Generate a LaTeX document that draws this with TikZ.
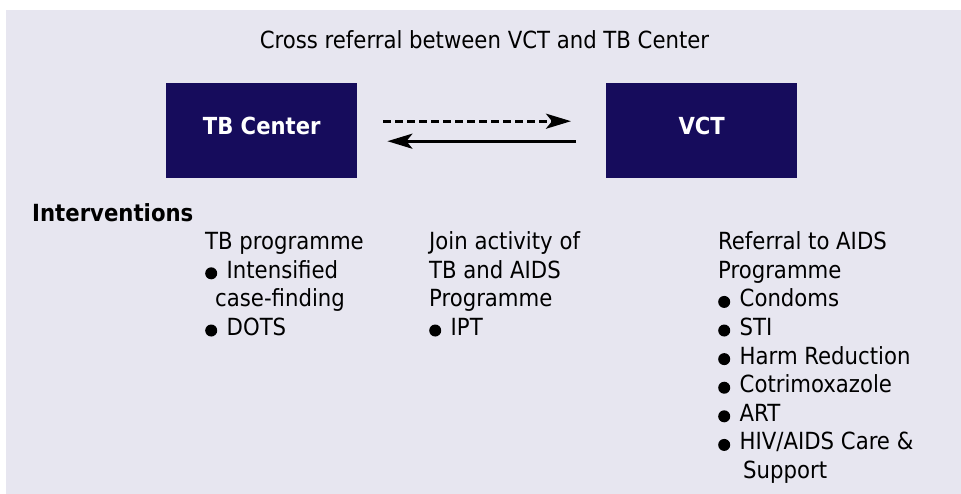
\documentclass[tikz,border=0pt]{standalone}
\usepackage{fontspec}
\setmainfont{DejaVu Sans Condensed}
\usetikzlibrary{arrows.meta}
\definecolor{bgcol}{RGB}{231,230,240}
\definecolor{boxcol}{RGB}{22,12,92}
\newcommand\mybul{\makebox[21.5pt][l]{\tikz[baseline=0pt]\fill[black] (6pt,5pt) circle (6pt);}}
\begin{document}
\begin{tikzpicture}[
  txt/.style={font={\fontsize{23.6pt}{28.6pt}\selectfont}, inner sep=0pt, text=black},
  col/.style={txt, align=left, anchor=north west},
  centerbox/.style={fill=boxcol, draw=none, minimum width=191pt, minimum height=95pt, inner sep=0pt,
    text=white, font={\fontsize{23.5pt}{28.6pt}\selectfont\bfseries}, text height=17pt, text depth=9pt},
  link/.style={line width=3pt, -{Stealth[length=25pt,width=15pt,inset=6pt]}},
  dashlink/.style={link, dash pattern=on 8pt off 4pt}
]
\useasboundingbox (0pt,0pt) rectangle (961pt,-494pt);
\fill[bgcol] (6pt,-10pt) rectangle (961pt,-494pt);

\node[txt, anchor=base] (title) at (484.5pt,-48.3pt) {Cross referral between VCT and TB Center};

\node[centerbox, anchor=north west] (tb) at (166pt,-83pt) {TB Center};
\node[centerbox, anchor=north west] (vct) at (606pt,-83pt) {VCT};

\draw[dashlink] ([xshift=26pt,yshift=9.5pt]tb.east) -- ([xshift=-35pt,yshift=9.5pt]vct.west);
\draw[link] ([xshift=-30pt,yshift=-10.5pt]vct.west) -- ([xshift=30pt,yshift=-10.5pt]tb.east);

\node[txt, anchor=base west, font={\fontsize{23.6pt}{28.6pt}\selectfont\bfseries}] (interv) at (32pt,-221.5pt) {Interventions};

\node[col] (tbprog) at (205pt,-229.5pt) {\strut TB programme\\
\mybul Intensified\\
\hspace*{10pt}case-finding\\
\mybul DOTS};

\node[col] (joint) at (429pt,-229.5pt) {\strut Join activity of\\
TB and AIDS\\
Programme\\
\mybul IPT};

\node[col] (aids) at (718pt,-229.5pt) {\strut Referral to AIDS\\
Programme\\
\mybul Condoms\\
\mybul STI\\
\mybul Harm Reduction\\
\mybul Cotrimoxazole\\
\mybul ART\\
\mybul HIV/AIDS Care \&\\
\hspace*{25pt}Support};
\end{tikzpicture}
\end{document}
